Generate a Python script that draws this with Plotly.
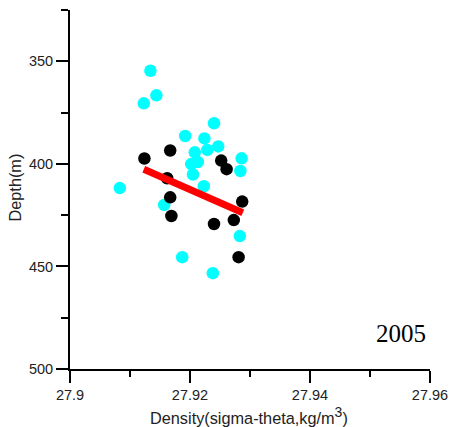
import plotly.graph_objects as go

# Cyan points (density, depth)
cyan_density = [27.9134, 27.9144, 27.9123, 27.9240, 27.9192, 27.9224, 27.9247, 27.9229,
                27.9208, 27.9213, 27.9202, 27.9286, 27.9284, 27.9205, 27.9223, 27.9083,
                27.9157, 27.9283, 27.9187, 27.9238]
cyan_depth = [354.6, 366.6, 370.5, 380.2, 386.4, 387.6, 391.5, 393.2,
              394.4, 399.1, 400.1, 397.3, 403.5, 405.2, 410.9, 411.8,
              420.0, 435.2, 445.5, 453.3]

# Black points (density, depth)
black_density = [27.9124, 27.9167, 27.9252, 27.9261, 27.9162, 27.9167, 27.9287,
                 27.9169, 27.9273, 27.9240, 27.9281]
black_depth = [397.4, 393.5, 398.4, 402.6, 407.0, 416.3, 418.4,
               425.4, 427.4, 429.3, 445.5]

# Red regression line
fit_density = [27.9123, 27.9288]
fit_depth = [402.6, 423.8]

x_ticks = [27.9, 27.92, 27.94, 27.96]
x_tick_labels = ["27.9", "27.92", "27.94", "27.96"]
y_ticks = [350, 400, 450, 500]
y_tick_labels = ["350", "400", "450", "500"]
year_label = "2005"
x_title = 'Density(sigma-theta,kg/m<sup><span style="font-size:14px">3</span></sup>)'
y_title = "Depth(m)"

fig = go.Figure()
fig.add_trace(go.Scatter(x=cyan_density, y=cyan_depth, mode="markers",
                         marker=dict(color="#00FFFF", size=12.5, line=dict(width=0)),
                         showlegend=False, hoverinfo="skip"))
fig.add_trace(go.Scatter(x=black_density, y=black_depth, mode="markers",
                         marker=dict(color="#000000", size=12.5, line=dict(width=0)),
                         showlegend=False, hoverinfo="skip"))
fig.add_trace(go.Scatter(x=fit_density, y=fit_depth, mode="lines",
                         line=dict(color="#FF0000", width=7),
                         showlegend=False, hoverinfo="skip"))

tick_font = dict(family="Liberation Sans, Arial, sans-serif", size=14.5, color="#222222")
title_font = dict(family="Liberation Sans, Arial, sans-serif", size=16.3, color="#222222")

fig.update_layout(
    width=450, height=427,
    margin=dict(l=70, r=20, t=10, b=58),
    paper_bgcolor="white", plot_bgcolor="white",
    font=tick_font,
    xaxis=dict(
        range=[27.9, 27.96], tickvals=x_ticks, ticktext=x_tick_labels,
        showgrid=False, zeroline=False, showline=True, linecolor="black", linewidth=2,
        ticks="outside", ticklen=12, tickwidth=2, tickcolor="black",
        minor=dict(dtick=0.01, tick0=27.9, ticks="outside", ticklen=6, tickwidth=2, tickcolor="black"),
        tickfont=tick_font, automargin=False,
    ),
    yaxis=dict(
        range=[500, 325], tickvals=y_ticks, ticktext=y_tick_labels,
        showgrid=False, zeroline=False, showline=True, linecolor="black", linewidth=2,
        ticks="outside", ticklen=12, tickwidth=2, tickcolor="black",
        minor=dict(dtick=25, tick0=325, ticks="outside", ticklen=7, tickwidth=2, tickcolor="black"),
        tickfont=tick_font, automargin=False,
    ),
    annotations=[
        dict(text=year_label, xref="paper", yref="paper", x=0.92, y=0.10,
             xanchor="center", yanchor="middle", showarrow=False,
             font=dict(family="Liberation Serif, Times New Roman, serif", size=25, color="black")),
        dict(text=x_title, xref="paper", yref="paper", x=(249 - 70) / 360, y=(369 - 415.5) / 359,
             xanchor="center", yanchor="middle", showarrow=False, font=title_font),
        dict(text=y_title, xref="paper", yref="paper", x=(14 - 70) / 360, y=(369 - 187.5) / 359,
             xanchor="center", yanchor="middle", showarrow=False, textangle=-90, font=title_font),
    ],
)

fig.write_html("out.html", config={"displayModeBar": False},
               post_script="document.body.style.margin='0';document.body.style.overflow='hidden';")
